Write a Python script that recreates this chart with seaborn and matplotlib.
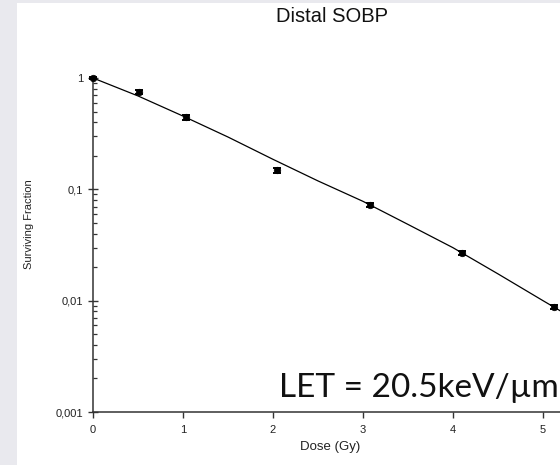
import numpy as np
import pandas as pd
import matplotlib
matplotlib.use("Agg")
import matplotlib.pyplot as plt
import seaborn as sns
from matplotlib.ticker import FixedLocator, FixedFormatter, NullFormatter
from matplotlib.patches import Rectangle

# ---- data ----
dose = [0.0, 0.51, 1.03, 2.04, 3.08, 4.10, 5.12]
surviving = [1.0, 0.75, 0.443, 0.149, 0.0723, 0.0269, 0.00881]
surviving_err = [0.03, 0.035, 0.02, 0.008, 0.0035, 0.0012, 0.0004]

fit_dose = [0.0, 0.5, 1.0, 1.5, 2.0, 2.5, 3.0, 3.5, 4.0, 4.5, 5.0, 5.5]
fit_surviving = [1.0, 0.69, 0.455, 0.295, 0.186, 0.119, 0.078, 0.0484,
                 0.0299, 0.0174, 0.0100, 0.00579]

x_ticks = [0, 1, 2, 3, 4, 5]
y_ticks = [0.001, 0.01, 0.1, 1]
y_tick_labels = ["0,001", "0,01", "0,1", "1"]

title = "Distal SOBP"
x_label = "Dose (Gy)"
y_label = "Surviving Fraction"
annotation = "LET = 20.5keV/µm"

points = pd.DataFrame({"dose": dose, "sf": surviving, "err": surviving_err})
fit = pd.DataFrame({"dose": fit_dose, "sf": fit_surviving})

# ---- style ----
sns.set_theme(style="white")
plt.rcParams["font.family"] = ["Liberation Sans", "DejaVu Sans"]

W, H = 560, 465
fig = plt.figure(figsize=(W / 100, H / 100), dpi=100)
fig.patch.set_facecolor("#e9e9ee")
fig.patches.append(Rectangle((17 / W, 0), 1 - 17 / W, 1 - 3 / H,
                             transform=fig.transFigure, facecolor="white",
                             edgecolor="none", zorder=-5))

left, right, bottom, top = 93, 567, 412, 78
ax = fig.add_axes([left / W, (H - bottom) / H, (right - left) / W, (bottom - top) / H])
ax.set_facecolor("none")
ax.set_zorder(2)

sns.lineplot(data=fit, x="dose", y="sf", ax=ax, color="black", linewidth=0.9,
             sort=False)
ax.errorbar(points["dose"], points["sf"], yerr=points["err"], fmt="none",
            ecolor="black", elinewidth=1.4, capsize=3.2, capthick=1.4,
            clip_on=False, zorder=3)
sns.scatterplot(data=points, x="dose", y="sf", ax=ax, color="black", s=22,
                edgecolor="black", linewidth=0.5, clip_on=False, zorder=4)

ax.set_yscale("log")
ax.set_xlim(0, (right - left) / 90.0)
ax.set_ylim(0.001, 1)

ax.xaxis.set_major_locator(FixedLocator(x_ticks))
ax.yaxis.set_major_locator(FixedLocator(y_ticks))
ax.yaxis.set_major_formatter(FixedFormatter(y_tick_labels))
minor = [m * 10.0 ** e for e in (-3, -2, -1) for m in range(2, 10)]
ax.yaxis.set_minor_locator(FixedLocator(minor))
ax.yaxis.set_minor_formatter(NullFormatter())

ax.tick_params(axis="y", which="major", direction="inout", length=7, width=1,
               pad=3.5, labelsize=8, color="#333333", labelcolor="#222222", left=True)
ax.tick_params(axis="y", which="minor", direction="in", length=3, width=0.9,
               color="#333333", left=True)
ax.tick_params(axis="x", which="major", direction="out", length=4, width=1,
               pad=5, labelsize=8, color="#333333", labelcolor="#222222", bottom=True)

for s in ("top", "right"):
    ax.spines[s].set_visible(False)
for s in ("left", "bottom"):
    ax.spines[s].set_color("#333333")
    ax.spines[s].set_linewidth(1.1)

ax.set_xlabel(x_label, fontsize=9.5, color="#222222")
ax.xaxis.set_label_coords(0.5, (bottom - 441) / (bottom - top))
ax.set_ylabel(y_label, fontsize=8, color="#222222")
ax.yaxis.set_label_coords((34 - left) / (right - left), (bottom - 224) / (bottom - top))

fig.text(332 / W, 1 - 22 / H, title, ha="center", va="baseline", fontsize=14.5,
         color="#111111")
fig.text(559 / W, 1 - 397 / H, annotation, ha="right", va="baseline",
         fontsize=24, color="#111111", family=["Lato", "DejaVu Sans"], zorder=5)

fig.savefig("out.png", dpi=100, facecolor=fig.get_facecolor())
